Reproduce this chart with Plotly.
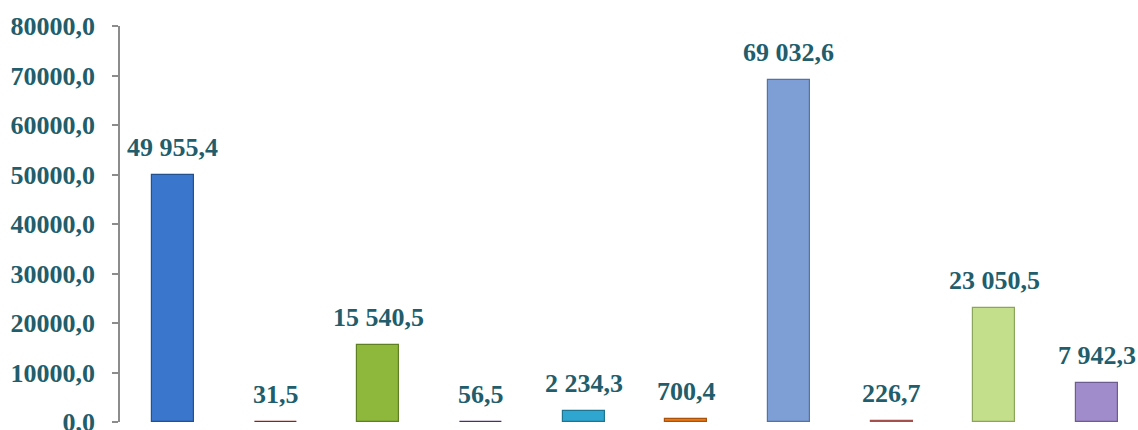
import plotly.graph_objects as go

categories = ["c1", "c2", "c3", "c4", "c5", "c6", "c7", "c8", "c9", "c10"]
values = [49955.4, 31.5, 15540.5, 56.5, 2234.3, 700.4, 69032.6, 226.7, 23050.5, 7942.3]
labels = ["49 955,4", "31,5", "15 540,5", "56,5", "2 234,3", "700,4",
          "69 032,6", "226,7", "23 050,5", "7 942,3"]
colors = ["#3A76CC", "#C8352D", "#8DB83C", "#7446A8", "#2FA6CF", "#EC7714",
          "#7E9FD6", "#DB7570", "#C4DF8C", "#A08BCB"]
edge_colors = ["#23508F", "#8E211B", "#5E7F22", "#4C2C74", "#1D7592", "#A9520B",
               "#56729E", "#A5504C", "#8BA55A", "#6D5C90"]
tick_vals = [0, 10000, 20000, 30000, 40000, 50000, 60000, 70000, 80000]
tick_text = ["0,0", "10000,0", "20000,0", "30000,0", "40000,0", "50000,0",
             "60000,0", "70000,0", "80000,0"]

TEXT_COLOR = "#225D6B"
FONT = "Liberation Serif, Times New Roman, serif"

xpos = list(range(len(categories)))

fig = go.Figure()
fig.add_trace(go.Bar(
    x=xpos, y=values, width=0.41,
    marker=dict(color=colors, line=dict(color=edge_colors, width=1.2)),
    hoverinfo="skip",
))

for xi, v, lab in zip(xpos, values, labels):
    fig.add_annotation(x=xi, y=v, text="<b>" + lab + "</b>", showarrow=False,
                       yanchor="bottom", yshift=11,
                       font=dict(family=FONT, size=26, color=TEXT_COLOR))

fig.update_layout(
    width=1138, height=430,
    margin=dict(l=120, r=0, t=26, b=8),
    paper_bgcolor="white", plot_bgcolor="white",
    showlegend=False, bargap=0,
    xaxis=dict(range=[-0.516, 9.40], showticklabels=False, showgrid=False,
               zeroline=False, showline=False, ticks=""),
    yaxis=dict(range=[0, 80000], tickvals=tick_vals, ticktext=["<b>" + t + "</b>" for t in tick_text],
               showgrid=False, zeroline=False, showline=True, linecolor="#8C8C8C",
               linewidth=1.5, ticks="outside", ticklen=6, tickcolor="#8C8C8C",
               tickwidth=1.5, ticklabelstandoff=12, automargin=False,
               ticklabeloverflow="allow",
               tickfont=dict(family=FONT, size=26, color=TEXT_COLOR)),
)

fig.write_html("out.html", config={"displayModeBar": False},
               post_script="document.body.style.margin='0';document.body.style.overflow='hidden';")
